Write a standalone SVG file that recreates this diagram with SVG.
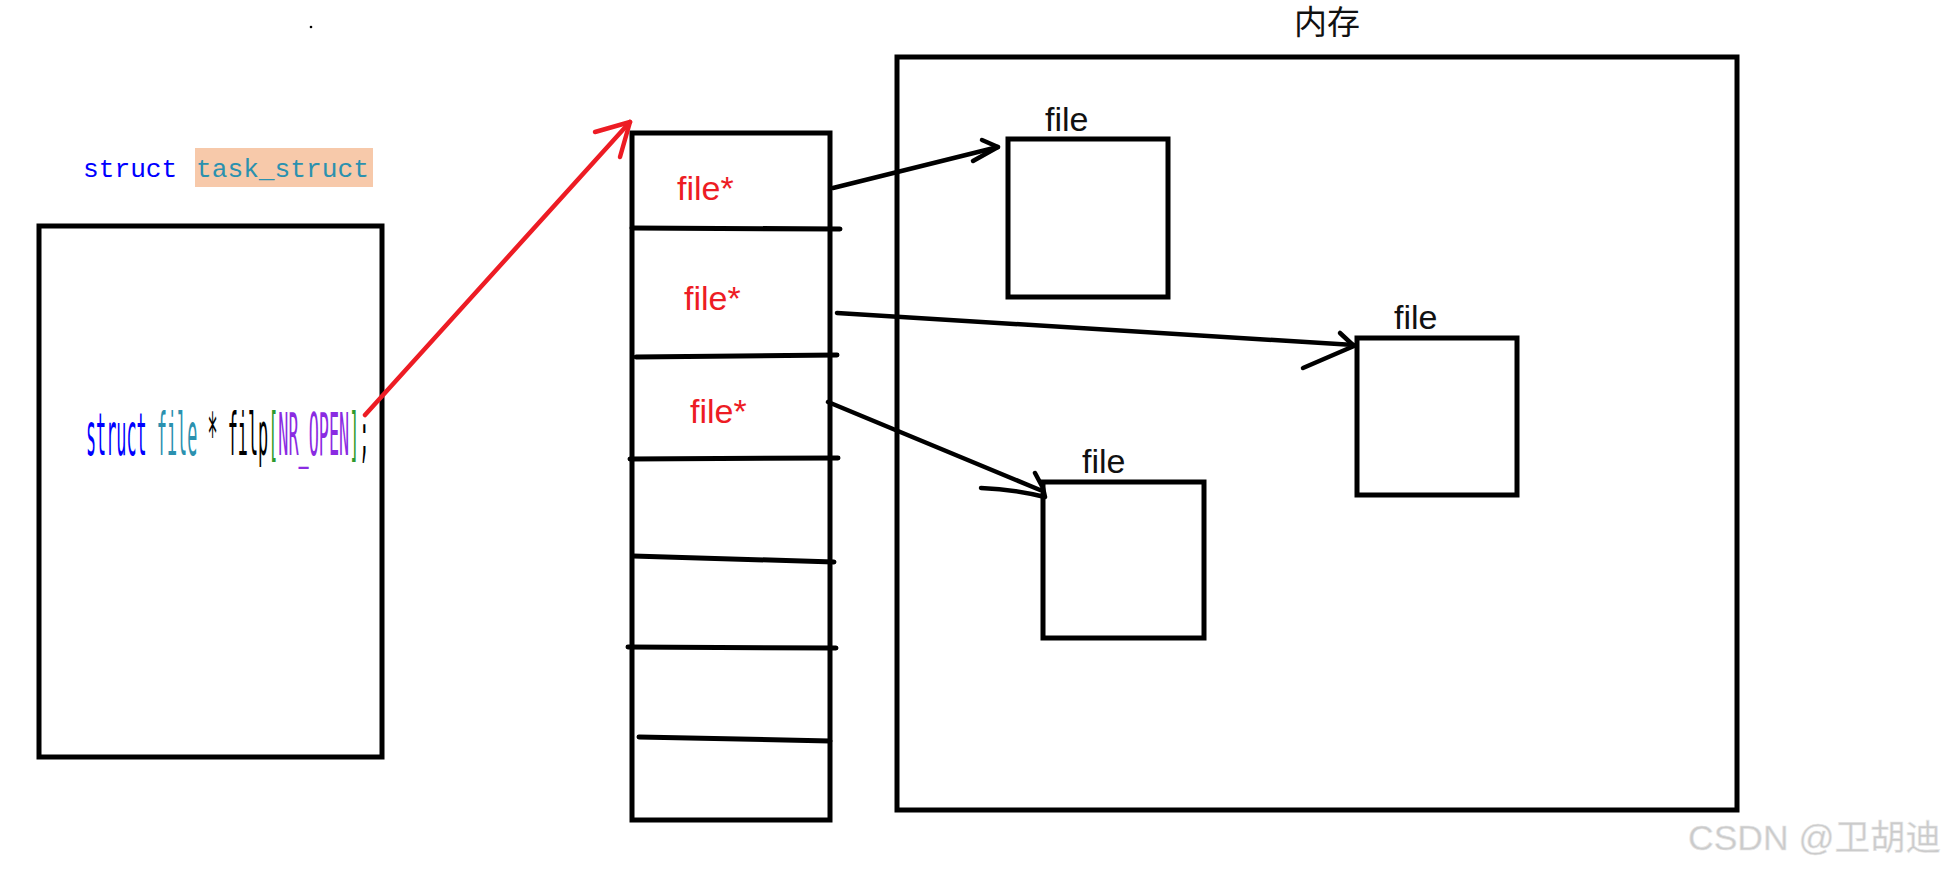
<svg xmlns="http://www.w3.org/2000/svg" width="1952" height="873" viewBox="0 0 1952 873">
<style>
.box{fill:none;stroke:#000;stroke-width:5}
.div{fill:none;stroke:#000;stroke-width:5;stroke-linecap:round}
.blk{fill:none;stroke:#000;stroke-width:4.5;stroke-linecap:round;stroke-linejoin:round}
.red{fill:none;stroke:#ed1c24;stroke-width:4.5;stroke-linecap:round;stroke-linejoin:round}
.fp{font-family:"Liberation Sans",Arial,sans-serif;font-size:34px;fill:#ed1c24}
.fl{font-family:"Liberation Sans",Arial,sans-serif;font-size:34px;fill:#111}
.mono{font-family:"Liberation Mono","DejaVu Sans Mono",monospace;font-size:26.2px}
</style>
<rect width="1952" height="873" fill="#fff"/>
<circle cx="311" cy="27" r="1.3" fill="#000"/>

<g id="task_struct">
  <rect x="195" y="148" width="178" height="39" fill="#f7c9aa"/>
  <text class="mono" x="83" y="177" fill="#0000ff">struct</text>
  <text class="mono" x="196" y="177" fill="#2b91af">task_struct</text>
  <rect class="box" x="39" y="226" width="343" height="531"/>
  <text font-family="'DejaVu Sans Mono',monospace" font-size="58px" transform="translate(86 455) scale(0.29 1)"><tspan fill="#0000ff">struct</tspan> <tspan fill="#2b91af">file</tspan> <tspan fill="#000">*</tspan> <tspan fill="#000">filp</tspan><tspan fill="#2e9a2e">[</tspan><tspan fill="#8a2be2">NR_OPEN</tspan><tspan fill="#2e9a2e">]</tspan><tspan fill="#000">;</tspan></text>
</g>

<g id="fd_array">
  <rect class="box" x="632" y="133" width="198" height="687"/>
  <path class="div" d="M632 228 L840 229"/>
  <path class="div" d="M636 357 L837 355"/>
  <path class="div" d="M630 459 L838 458"/>
  <path class="div" d="M633 556 L834 562"/>
  <path class="div" d="M628 647 L836 648"/>
  <path class="div" d="M639 737 L830 741"/>
  <text class="fp" x="677" y="200">file*</text>
  <text class="fp" x="684" y="310">file*</text>
  <text class="fp" x="690" y="423">file*</text>
</g>

<g id="memory">
  <rect class="box" x="897" y="57" width="840" height="753"/>
  <text x="1294" y="34" font-family="'Noto Sans CJK SC','Noto Sans',sans-serif" font-size="33px" fill="#111">内存</text>
</g>

<g id="file1">
  <rect class="box" x="1008" y="139" width="160" height="158"/>
  <text class="fl" x="1045" y="131">file</text>
</g>
<g id="file2">
  <rect class="box" x="1357" y="338" width="160" height="157"/>
  <text class="fl" x="1394" y="329">file</text>
</g>
<g id="file3">
  <rect class="box" x="1043" y="482" width="161" height="156"/>
  <text class="fl" x="1082" y="473">file</text>
</g>

<g id="connectors">
  <path class="red" d="M365 415 L630 122"/>
  <path class="red" d="M595 132 L630 122 L620 157"/>
  <path class="blk" d="M833 188 L998 147"/>
  <path class="blk" d="M982 140 L998 147 L973 161"/>
  <path class="blk" d="M837 313 L1354 345"/>
  <path class="blk" d="M1340 333 L1354 346 L1303 368"/>
  <path class="blk" d="M828 402 L1040 490"/>
  <path class="blk" d="M1035 473 L1043 488 L1045 497 M981 488 Q1012 489 1045 497"/>
</g>

<text x="1688" y="850" font-family="'Liberation Sans','Noto Sans CJK SC',sans-serif" font-size="35.5px" fill="#cbcbcb" stroke="#e8e8e8" stroke-width="0.6">CSDN @卫胡迪</text>
</svg>
